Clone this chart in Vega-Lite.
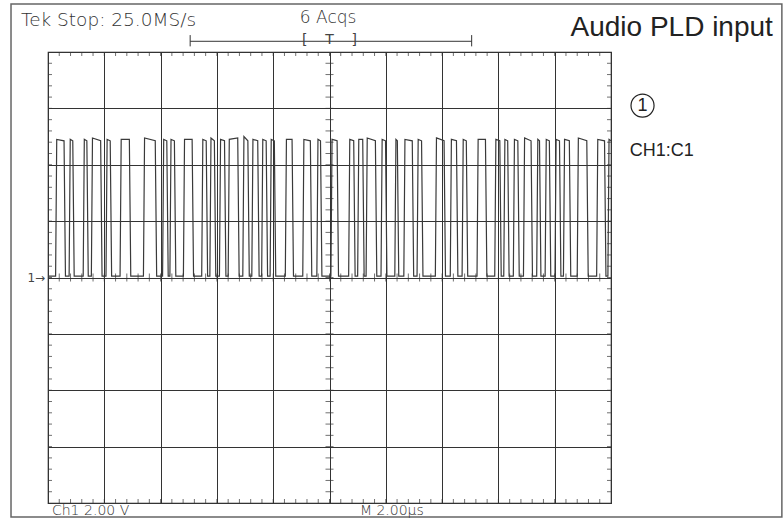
{
  "$schema": "https://vega.github.io/schema/vega-lite/v6.json",
  "autosize": "none",
  "width": 563,
  "height": 451,
  "padding": {"left": 48, "top": 52, "right": 173, "bottom": 17},
  "background": "white",
  "config": {"view": {"stroke": "#222", "strokeWidth": 1.2}},
  "data": {"values": [{}]},
  "datasets": {
    "wave": [
      {"t":0,"v":0.05},
      {"t":0.27,"v":0.05},{"t":0.31,"v":4.9},{"t":0.57,"v":4.85},{"t":0.62,"v":0.05},
      {"t":0.75,"v":0.05},{"t":0.79,"v":4.9},{"t":0.88,"v":4.85},{"t":0.93,"v":0.05},
      {"t":1.25,"v":0.05},{"t":1.29,"v":4.9},{"t":1.38,"v":4.85},{"t":1.43,"v":0.05},
      {"t":1.54,"v":0.05},{"t":1.58,"v":4.95},{"t":1.87,"v":4.85},{"t":1.92,"v":0.05},
      {"t":2.06,"v":0.05},{"t":2.10,"v":4.9},{"t":2.21,"v":4.85},{"t":2.26,"v":0.05},
      {"t":2.56,"v":0.05},{"t":2.60,"v":4.9},{"t":2.89,"v":4.9},{"t":2.94,"v":0.05},
      {"t":3.39,"v":0.05},{"t":3.43,"v":4.95},{"t":3.81,"v":4.85},{"t":3.86,"v":0.05},
      {"t":4.07,"v":0.05},{"t":4.11,"v":4.9},{"t":4.22,"v":4.85},{"t":4.27,"v":0.05},
      {"t":4.33,"v":0.05},{"t":4.37,"v":4.9},{"t":4.49,"v":4.85},{"t":4.54,"v":0.05},
      {"t":4.81,"v":0.05},{"t":4.85,"v":4.9},{"t":5.12,"v":4.9},{"t":5.17,"v":0.05},
      {"t":5.46,"v":0.05},{"t":5.50,"v":4.9},{"t":5.62,"v":4.85},{"t":5.67,"v":0.05},
      {"t":5.75,"v":0.05},{"t":5.79,"v":4.95},{"t":5.91,"v":4.85},{"t":5.96,"v":0.05},
      {"t":6.09,"v":0.05},{"t":6.13,"v":4.9},{"t":6.27,"v":4.85},{"t":6.32,"v":0.05},
      {"t":6.40,"v":0.05},{"t":6.44,"v":4.9},{"t":6.74,"v":4.95},{"t":6.79,"v":0.05},
      {"t":6.92,"v":0.05},{"t":6.96,"v":5.0},{"t":7.10,"v":4.85},{"t":7.15,"v":0.05},
      {"t":7.24,"v":0.05},{"t":7.28,"v":4.9},{"t":7.45,"v":4.85},{"t":7.50,"v":0.05},
      {"t":7.59,"v":0.05},{"t":7.63,"v":4.9},{"t":7.75,"v":4.85},{"t":7.80,"v":0.05},
      {"t":7.89,"v":0.05},{"t":7.93,"v":4.9},{"t":8.04,"v":4.85},{"t":8.09,"v":0.05},
      {"t":8.43,"v":0.05},{"t":8.47,"v":4.9},{"t":8.67,"v":4.9},{"t":8.72,"v":0.05},
      {"t":9.05,"v":0.05},{"t":9.09,"v":4.9},{"t":9.32,"v":4.85},{"t":9.37,"v":0.05},
      {"t":9.55,"v":0.05},{"t":9.59,"v":4.9},{"t":9.68,"v":4.85},{"t":9.73,"v":0.05},
      {"t":10.05,"v":0.05},{"t":10.09,"v":4.9},{"t":10.27,"v":4.85},{"t":10.32,"v":0.05},
      {"t":10.68,"v":0.05},{"t":10.72,"v":4.9},{"t":10.86,"v":4.85},{"t":10.91,"v":0.05},
      {"t":11.00,"v":0.05},{"t":11.04,"v":4.9},{"t":11.18,"v":4.9},{"t":11.23,"v":0.05},
      {"t":11.30,"v":0.05},{"t":11.34,"v":4.95},{"t":11.63,"v":4.85},{"t":11.68,"v":0.05},
      {"t":11.83,"v":0.05},{"t":11.87,"v":4.9},{"t":11.99,"v":4.85},{"t":12.04,"v":0.05},
      {"t":12.32,"v":0.05},{"t":12.36,"v":4.9},{"t":12.41,"v":4.85},{"t":12.46,"v":0.05},
      {"t":12.64,"v":0.05},{"t":12.68,"v":4.9},{"t":12.94,"v":4.85},{"t":12.99,"v":0.05},
      {"t":13.11,"v":0.05},{"t":13.15,"v":4.9},{"t":13.27,"v":4.85},{"t":13.32,"v":0.05},
      {"t":13.76,"v":0.05},{"t":13.80,"v":4.95},{"t":14.07,"v":4.85},{"t":14.12,"v":0.05},
      {"t":14.29,"v":0.05},{"t":14.33,"v":4.9},{"t":14.51,"v":4.85},{"t":14.56,"v":0.05},
      {"t":14.71,"v":0.05},{"t":14.75,"v":4.9},{"t":14.86,"v":4.85},{"t":14.91,"v":0.05},
      {"t":15.24,"v":0.05},{"t":15.28,"v":4.9},{"t":15.54,"v":4.9},{"t":15.59,"v":0.05},
      {"t":15.87,"v":0.05},{"t":15.91,"v":4.9},{"t":16.05,"v":4.85},{"t":16.10,"v":0.05},
      {"t":16.19,"v":0.05},{"t":16.23,"v":4.9},{"t":16.33,"v":4.85},{"t":16.38,"v":0.05},
      {"t":16.53,"v":0.05},{"t":16.57,"v":4.9},{"t":16.69,"v":4.85},{"t":16.74,"v":0.05},
      {"t":16.89,"v":0.05},{"t":16.93,"v":4.95},{"t":17.16,"v":4.85},{"t":17.21,"v":0.05},
      {"t":17.36,"v":0.05},{"t":17.40,"v":4.9},{"t":17.46,"v":4.85},{"t":17.51,"v":0.05},
      {"t":17.66,"v":0.05},{"t":17.70,"v":4.9},{"t":17.81,"v":4.85},{"t":17.86,"v":0.05},
      {"t":18.01,"v":0.05},{"t":18.05,"v":4.9},{"t":18.17,"v":4.85},{"t":18.22,"v":0.05},
      {"t":18.31,"v":0.05},{"t":18.35,"v":4.9},{"t":18.52,"v":4.85},{"t":18.57,"v":0.05},
      {"t":18.80,"v":0.05},{"t":18.84,"v":4.95},{"t":19.14,"v":4.85},{"t":19.19,"v":0.05},
      {"t":19.49,"v":0.05},{"t":19.53,"v":4.9},{"t":19.77,"v":4.85},{"t":19.82,"v":0.05},
      {"t":19.89,"v":0.05},{"t":19.93,"v":4.9},{"t":20,"v":4.85}
    ],
    "mx": [
      {"t":0.4},{"t":0.8},{"t":1.2},{"t":1.6},{"t":2},{"t":2.4},{"t":2.8},{"t":3.2},{"t":3.6},{"t":4},
      {"t":4.4},{"t":4.8},{"t":5.2},{"t":5.6},{"t":6},{"t":6.4},{"t":6.8},{"t":7.2},{"t":7.6},{"t":8},
      {"t":8.4},{"t":8.8},{"t":9.2},{"t":9.6},{"t":10},{"t":10.4},{"t":10.8},{"t":11.2},{"t":11.6},{"t":12},
      {"t":12.4},{"t":12.8},{"t":13.2},{"t":13.6},{"t":14},{"t":14.4},{"t":14.8},{"t":15.2},{"t":15.6},{"t":16},
      {"t":16.4},{"t":16.8},{"t":17.2},{"t":17.6},{"t":18},{"t":18.4},{"t":18.8},{"t":19.2},{"t":19.6}
    ],
    "my": [
      {"v":-7.6},{"v":-7.2},{"v":-6.8},{"v":-6.4},{"v":-6},{"v":-5.6},{"v":-5.2},{"v":-4.8},{"v":-4.4},{"v":-4},
      {"v":-3.6},{"v":-3.2},{"v":-2.8},{"v":-2.4},{"v":-2},{"v":-1.6},{"v":-1.2},{"v":-0.8},{"v":-0.4},{"v":0},
      {"v":0.4},{"v":0.8},{"v":1.2},{"v":1.6},{"v":2},{"v":2.4},{"v":2.8},{"v":3.2},{"v":3.6},{"v":4},
      {"v":4.4},{"v":4.8},{"v":5.2},{"v":5.6},{"v":6},{"v":6.4},{"v":6.8},{"v":7.2},{"v":7.6}
    ]
  },
  "layer": [
    {
      "data": {"name": "wave"},
      "mark": {"type": "line", "color": "#3a3a3a", "strokeWidth": 1.2, "interpolate": "linear"},
      "encoding": {
        "x": {"field": "t", "type": "quantitative", "title": null,
              "scale": {"domain": [0, 20], "nice": false, "zero": false},
              "axis": {"values": [0,2,4,6,8,10,12,14,16,18,20], "grid": true, "gridColor": "#333", "gridWidth": 1, "gridOpacity": 1, "labels": false, "ticks": false, "domain": false, "title": null}},
        "y": {"field": "v", "type": "quantitative", "title": null,
              "scale": {"domain": [-8, 8], "nice": false, "zero": false},
              "axis": {"values": [-8,-6,-4,-2,0,2,4,6,8], "grid": true, "gridColor": "#333", "gridWidth": 1, "gridOpacity": 1, "labels": false, "ticks": false, "domain": false, "title": null}}
      }
    },
    {"data": {"name": "mx"}, "mark": {"type": "tick", "orient": "vertical", "size": 8, "thickness": 1, "color": "#333"},
     "encoding": {"x": {"field": "t", "type": "quantitative", "title": null}, "y": {"datum": 0, "title": null}}},
    {"data": {"name": "mx"}, "mark": {"type": "tick", "orient": "vertical", "size": 8, "thickness": 1, "color": "#333", "clip": true},
     "encoding": {"x": {"field": "t", "type": "quantitative", "title": null}, "y": {"datum": -8, "title": null}}},
    {"data": {"name": "mx"}, "mark": {"type": "tick", "orient": "vertical", "size": 8, "thickness": 1, "color": "#333", "clip": true},
     "encoding": {"x": {"field": "t", "type": "quantitative", "title": null}, "y": {"datum": 8, "title": null}}},
    {"data": {"name": "my"}, "mark": {"type": "tick", "orient": "horizontal", "size": 8, "thickness": 1, "color": "#333"},
     "encoding": {"y": {"field": "v", "type": "quantitative", "title": null}, "x": {"datum": 10, "title": null}}},
    {"data": {"name": "my"}, "mark": {"type": "tick", "orient": "horizontal", "size": 8, "thickness": 1, "color": "#333", "clip": true},
     "encoding": {"y": {"field": "v", "type": "quantitative", "title": null}, "x": {"datum": 0, "title": null}}},
    {"data": {"name": "my"}, "mark": {"type": "tick", "orient": "horizontal", "size": 8, "thickness": 1, "color": "#333", "clip": true},
     "encoding": {"y": {"field": "v", "type": "quantitative", "title": null}, "x": {"datum": 20, "title": null}}},
    {"mark": {"type": "rect", "fillOpacity": 0, "stroke": "#666", "strokeWidth": 1.5},
     "encoding": {"x": {"datum": -1.314, "title": null}, "x2": {"datum": 26.07}, "y": {"datum": 9.70, "title": null}, "y2": {"datum": -8.50}}},
    {"mark": {"type": "rule", "color": "#333", "strokeWidth": 1},
     "encoding": {"x": {"datum": 5.05, "title": null}, "x2": {"datum": 15.05}, "y": {"datum": 8.38, "title": null}}},
    {"mark": {"type": "rule", "color": "#333", "strokeWidth": 1},
     "encoding": {"x": {"datum": 5.05, "title": null}, "y": {"datum": 8.2, "title": null}, "y2": {"datum": 8.6}}},
    {"mark": {"type": "rule", "color": "#333", "strokeWidth": 1},
     "encoding": {"x": {"datum": 15.05, "title": null}, "y": {"datum": 8.2, "title": null}, "y2": {"datum": 8.6}}},
    {"mark": {"type": "text", "text": "[\u00a0\u00a0\u00a0\u00a0T\u00a0\u00a0\u00a0\u00a0]", "font": "DejaVu Sans", "fontSize": 14, "color": "#444", "align": "center", "baseline": "alphabetic"},
     "encoding": {"x": {"datum": 10, "title": null}, "y": {"datum": 8.3, "title": null}}},
    {"mark": {"type": "text", "text": "Tek Stop: 25.0MS/s", "font": "DejaVu Sans", "fontWeight": 200, "fontSize": 18.5, "color": "#333", "align": "left", "baseline": "middle"},
     "encoding": {"x": {"datum": -0.96, "title": null}, "y": {"datum": 9.15, "title": null}}},
    {"mark": {"type": "text", "text": "6 Acqs", "font": "DejaVu Sans", "fontWeight": 200, "fontSize": 17, "color": "#333", "align": "center", "baseline": "middle"},
     "encoding": {"x": {"datum": 9.95, "title": null}, "y": {"datum": 9.2, "title": null}}},
    {"mark": {"type": "text", "text": "Audio PLD input", "font": "Liberation Sans", "fontSize": 28, "color": "#222", "align": "right", "baseline": "alphabetic"},
     "encoding": {"x": {"datum": 25.75, "title": null}, "y": {"datum": 8.57, "title": null}}},
    {"mark": {"type": "point", "shape": "circle", "size": 531, "filled": false, "stroke": "#222", "strokeWidth": 1.2, "opacity": 1},
     "encoding": {"x": {"datum": 21.12, "title": null}, "y": {"datum": 6.10, "title": null}}},
    {"mark": {"type": "text", "text": "1", "font": "Liberation Sans", "fontSize": 18, "color": "#222", "align": "center", "baseline": "middle"},
     "encoding": {"x": {"datum": 21.12, "title": null}, "y": {"datum": 6.10, "title": null}}},
    {"mark": {"type": "text", "text": "CH1:C1", "font": "Liberation Sans", "fontSize": 18, "color": "#222", "align": "left", "baseline": "middle"},
     "encoding": {"x": {"datum": 20.67, "title": null}, "y": {"datum": 4.49, "title": null}}},
    {"mark": {"type": "text", "text": "1→", "font": "DejaVu Sans", "fontSize": 12, "color": "#444", "align": "right", "baseline": "middle"},
     "encoding": {"x": {"datum": -0.1, "title": null}, "y": {"datum": 0, "title": null}}},
    {"mark": {"type": "text", "text": "Ch1", "font": "DejaVu Sans", "fontWeight": 200, "fontSize": 14, "color": "#333", "align": "left", "baseline": "middle"},
     "encoding": {"x": {"datum": 0.14, "title": null}, "y": {"datum": -8.27, "title": null}}},
    {"mark": {"type": "text", "text": "2.00 V", "font": "DejaVu Sans", "fontWeight": 200, "fontSize": 14, "color": "#333", "align": "left", "baseline": "middle"},
     "encoding": {"x": {"datum": 1.28, "title": null}, "y": {"datum": -8.27, "title": null}}},
    {"mark": {"type": "text", "text": "M 2.00µs", "font": "DejaVu Sans", "fontWeight": 200, "fontSize": 14, "color": "#333", "align": "left", "baseline": "middle"},
     "encoding": {"x": {"datum": 11.08, "title": null}, "y": {"datum": -8.27, "title": null}}}
  ]
}
